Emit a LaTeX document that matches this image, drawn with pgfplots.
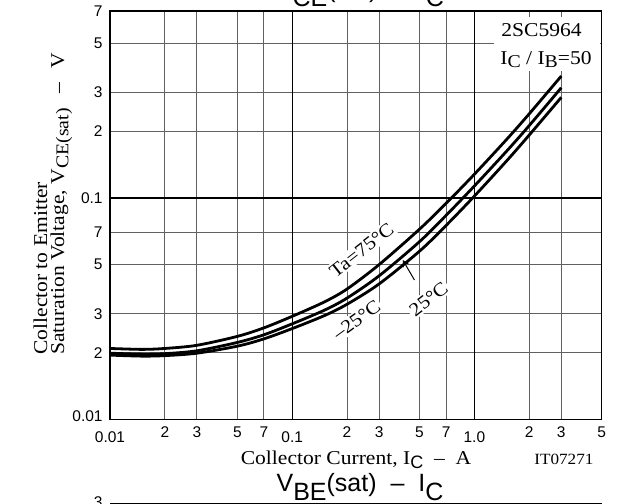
\documentclass[border=0pt]{standalone}
\usepackage{fontspec}
\setmainfont{Liberation Serif}[FakeStretch=1.1]
\newfontfamily\hv{Liberation Sans}
\usepackage{pgfplots}
\pgfplotsset{compat=1.18}
\newcommand{\lo}[2]{\raisebox{-#1}{#2}}

\begin{document}
\begin{tikzpicture}[x=0.5pt,y=-0.5pt]
\path[use as bounding box] (0,0) rectangle (617,504);
\begin{axis}[
  at={(55pt,-5.5pt)}, anchor=north west,
  width=245.85pt, height=204.15pt, scale only axis,
  xmode=log, ymode=log,
  xmin=0.01, xmax=5, ymin=0.01, ymax=0.7,
  axis line style={line width=0.75pt},
  major tick length=0pt, minor tick num=0,
  xtick={0.02,0.03,0.05,0.07,0.2,0.3,0.5,0.7,2,3,5},
  xticklabels={2,3,5,7,2,3,5,7,2,3,5},
  ytick={0.02,0.03,0.05,0.07,0.2,0.3,0.5,0.7},
  yticklabels={2,3,5,7,2,3,5,7},
  grid=major,
  major grid style={black!62, line width=0.5pt},
  tick label style={font=\hv\fontsize{7.75}{8}\selectfont, inner sep=0pt},
  xticklabel style={anchor=north, yshift=-3.7pt},
  yticklabel style={anchor=east, xshift=-3.5pt},
  extra x ticks={0.01,0.1,1},
  extra x tick labels={0.01,0.1,1.0},
  extra x tick style={grid=major, major grid style={black, line width=0.6pt},
    xticklabel style={yshift=-2.25pt}},
  extra y ticks={0.01,0.1},
  extra y tick labels={\raisebox{3pt}{0.01},0.1},
  extra y tick style={grid=major, major grid style={black, line width=0.6pt}},
]
% Ta = 75 C
\addplot[smooth, line width=1.4pt] table {
0.01 0.0209
0.015 0.0207
0.02 0.0209
0.03 0.0216
0.05 0.0237
0.07 0.0259
0.1 0.0292
0.15 0.0339
0.2 0.0388
0.3 0.0500
0.5 0.0723
0.7 0.0946
1.0 0.128
1.5 0.1836
2.0 0.240
3.0 0.3557
};
% 25 C
\addplot[smooth, line width=1.4pt] table {
0.01 0.0199
0.015 0.0197
0.02 0.0198
0.03 0.0204
0.05 0.02225
0.07 0.0241
0.1 0.0270
0.15 0.0311
0.2 0.0353
0.3 0.0445
0.5 0.0635
0.7 0.0835
1.0 0.1133
1.5 0.1625
2.0 0.2124
3.0 0.315
};
% -25 C
\addplot[smooth, line width=1.4pt] table {
0.01 0.0195
0.015 0.0193
0.02 0.0194
0.03 0.0199
0.05 0.0214
0.07 0.0231
0.1 0.0257
0.15 0.0294
0.2 0.0331
0.3 0.0409
0.5 0.0575
0.7 0.0752
1.0 0.1020
1.5 0.1468
2.0 0.1925
3.0 0.285
};
\node[fill=white, inner sep=1pt, rotate=38, font=\fontsize{9.5}{10}\selectfont]
  at (axis cs:0.2403,0.0582) {Ta=75°C};
\node[fill=white, inner sep=1pt, rotate=36, font=\fontsize{9.5}{10}\selectfont]
  at (axis cs:0.2256,0.0281) {–25°C};
\node[fill=white, inner sep=1pt, rotate=38, font=\fontsize{9.5}{10}\selectfont]
  at (axis cs:0.56,0.035) {25°C};
\draw[-stealth, line width=0.5pt] (axis cs:0.469,0.0426) -- (axis cs:0.4045,0.0525);
\end{axis}

% part-number box
\fill[white] (494,17) rectangle (600,71);
\node[inner sep=0pt, anchor=base west, font=\fontsize{9.8}{10}\selectfont]
  at (501,36.7) {2SC5964};
\node[inner sep=0pt, anchor=base west, font=\fontsize{9.8}{10}\selectfont]
  at (500,64) {I\lo{0.2em}{\small C} / I\lo{0.2em}{\small B}=50};

% axis labels
\node[anchor=base, font=\fontsize{9.8}{10}\selectfont] at (356,464)
  {Collector Current, I\lo{0.22em}{\hv\small C}\ \ –\ \ A};
\node[anchor=base east, font=\fontsize{7.8}{8}\selectfont] at (600.5,464) {IT07271};
\node[rotate=90, anchor=base west, font=\fontsize{9.8}{10}\selectfont] at (47,361.7)
  {Collector to Emitter};
\node[rotate=90, anchor=base west, font=\fontsize{9.8}{10}\selectfont] at (64,361.7)
  {Saturation Voltage, V\lo{0.22em}{\fontsize{9}{9}\selectfont CE(sat)}\hspace{0.75em}–\hspace{0.75em}V};

% titles (this chart, cut at the top; next chart, cut at the bottom)
\node[anchor=base, font=\hv\fontsize{12.5}{13}\selectfont] at (360,-3)
  {V\lo{4.5pt}{CE}(sat)\ \ –\ \ I\lo{4.5pt}{C}};
\node[anchor=base, font=\hv\fontsize{12.5}{13}\selectfont] at (360,491)
  {V\lo{4.5pt}{BE}(sat)\ \ –\ \ I\lo{4.5pt}{C}};
\draw[line width=0.75pt] (110,503.5) -- (601.7,503.5);
\node[anchor=east, inner sep=0pt, font=\hv\fontsize{7.75}{8}\selectfont] at (103,502) {3};
\end{tikzpicture}
\end{document}
